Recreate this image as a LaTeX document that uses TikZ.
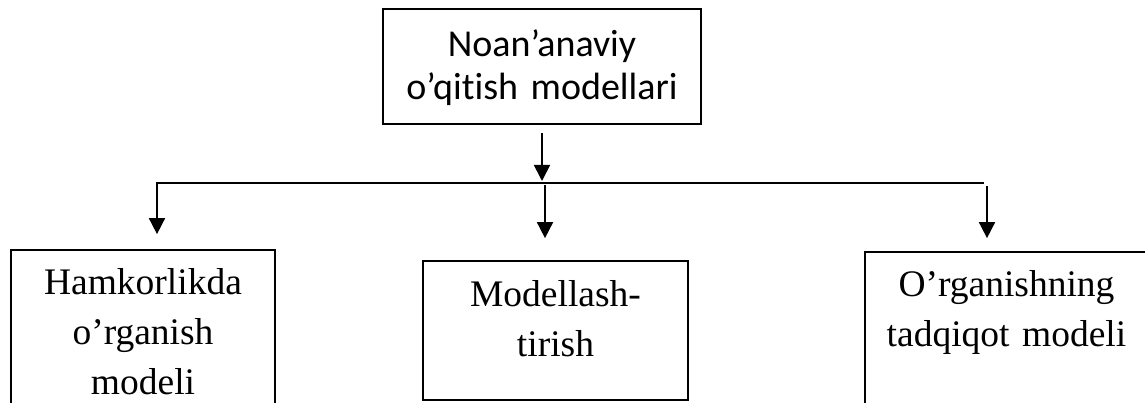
\documentclass[tikz,border=0pt]{standalone}
\usepackage{fontspec}
\setmainfont{Liberation Serif}
\newfontfamily\calibrifont[Ligatures=NoCommon]{Carlito}
\usetikzlibrary{arrows.meta, positioning}

\begin{document}
\begin{tikzpicture}[
x=1pt, y=-1pt,
>={Triangle[width=16pt,length=16pt]},
line width=1.7pt,
box/.style={draw, rectangle, inner sep=0pt},
lbl/.style={anchor=base, inner sep=0pt, text width=280pt, align=center,
  font=\fontsize{37.5}{50}\selectfont},
toplbl/.style={anchor=base, inner sep=0pt, text width=310pt, align=center,
  font=\calibrifont\fontsize{38}{43}\selectfont},
]
\useasboundingbox (0,0) rectangle (1145,403);
\clip (0,0) rectangle (1145,403);

% boxes
\node[box, minimum width=318pt, minimum height=115pt] (top) at (542,66.5) {};
\node[box, minimum width=264pt, minimum height=166pt] (hamkor) at (143,333) {};
\node[box, minimum width=265pt, minimum height=139pt] (model) at (555.5,330.5) {};
\node[box, minimum width=283pt, minimum height=166pt] (organ) at (1006.5,335) {};

% labels
\node[toplbl] (topT) at ([yshift=-48pt]top.north) {Noan’anaviy\\o’qitish modellari};
\node[lbl] (hamkorT) at ([yshift=-45pt]hamkor.north) {Hamkorlikda\\o’rganish\\modeli};
\node[lbl] (modelT) at ([yshift=-46pt]model.north) {Modellash-\\tirish};
\node[lbl] (organT) at ([yshift=-45pt]organ.north) {O’rganishning\\tadqiqot modeli};

% connectors
\coordinate (busL) at (157,183);
\coordinate (busM) at (545,183);
\coordinate (busR) at (984,183);

\draw[->, shorten <=8pt, shorten >=2pt] (top.south) -- (top.south |- busM);
\draw[->, shorten >=15pt] (busR) -- (busL) -- (busL |- hamkor.north);
\draw[->, shorten <=2pt, shorten >=22pt] (busM) -- (busM |- model.north);
\draw[->, shorten <=3pt, shorten >=13pt] ([xshift=3pt]busR) -- ([xshift=3pt]busR |- organ.north);
\end{tikzpicture}
\end{document}
